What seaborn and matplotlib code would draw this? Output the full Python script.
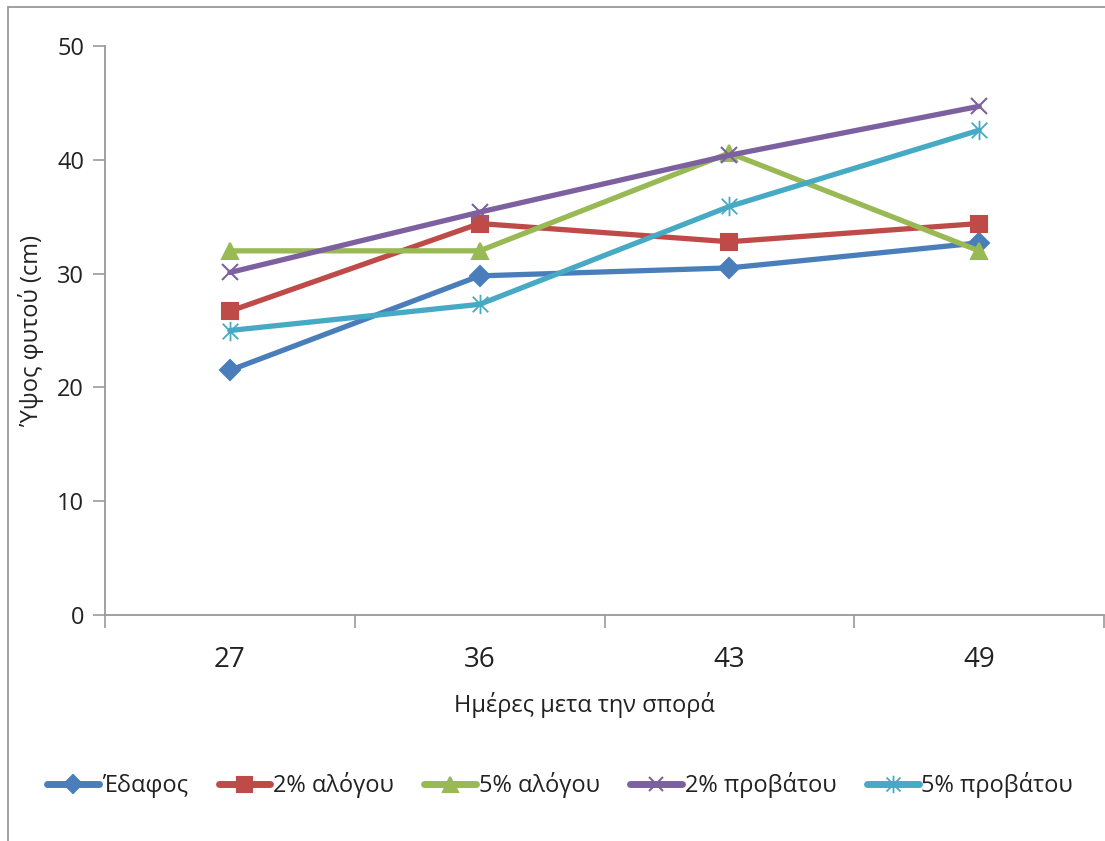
import matplotlib
matplotlib.use("Agg")
import matplotlib.pyplot as plt
from matplotlib.path import Path
from matplotlib.patches import Rectangle
from matplotlib.lines import Line2D
import seaborn as sns
import pandas as pd

days = ["27", "36", "43", "49"]
edafos = [21.5, 29.8, 30.5, 32.7]
alogou2 = [26.7, 34.4, 32.8, 34.4]
alogou5 = [32.0, 32.0, 40.6, 32.0]
provatou2 = [30.1, 35.4, 40.4, 44.7]
provatou5 = [25.0, 27.3, 35.9, 42.6]
series_names = ["Έδαφος", "2% αλόγου", "5% αλόγου", "2% προβάτου", "5% προβάτου"]
series_values = [edafos, alogou2, alogou5, provatou2, provatou5]
colors = ["#4A7EBB", "#BE4B48", "#98B954", "#7D60A0", "#46AAC5"]

sns.set_style("white")
plt.rcParams["font.family"] = ["Open Sans", "DejaVu Sans"]

star = Path([(-1, -1), (1, 1), (-1, 1), (1, -1), (0, -1.25), (0, 1.25)],
            [Path.MOVETO, Path.LINETO, Path.MOVETO, Path.LINETO, Path.MOVETO, Path.LINETO])
markers = ["D", "s", "^", "x", star]
msizes = [10, 12, 12, 11, 14]
medge = [1.5, 1.5, 1.5, 1.5, 1.3]

fig = plt.figure(figsize=(11.05, 8.41), dpi=100)
ax = fig.add_axes([105 / 1105, 1 - 615 / 841, (1104 - 105) / 1105, (615 - 46) / 841])

handles = []
for name, vals, c, m, ms, mew in zip(series_names, series_values, colors, markers, msizes, medge):
    d = pd.DataFrame({"day": days, "height": vals})
    sns.lineplot(data=d, x="day", y="height", color=c, marker=m, markersize=ms,
                 markeredgecolor=c, markerfacecolor=c, markeredgewidth=mew,
                 linewidth=3.8, sort=False, ax=ax, label=name, legend=False)
    handles.append(Line2D([], [], color=c, marker=m, markersize=ms * 0.9,
                          markeredgecolor=c, markerfacecolor=c, markeredgewidth=mew,
                          linewidth=5, solid_capstyle="round"))

ax.set_ylim(0, 50)
ax.set_yticks(range(0, 51, 10))
ax.set_xlim(-0.5, 3.5)
ax.set_xticks(range(len(days)))
ax.set_xticklabels(days)
ax.set_xticks([i - 0.5 for i in range(len(days) + 1)], minor=True)
ax.tick_params(axis="x", which="major", length=0, pad=22, labelsize=20, colors="#222222")
ax.tick_params(axis="x", which="minor", length=9, width=1.2, color="#999999", direction="out", bottom=True)
ax.tick_params(axis="y", which="major", length=9, width=1.2, color="#999999", direction="out",
               pad=6, labelsize=17, labelcolor="#222222", left=True)

for s in ["top", "right"]:
    ax.spines[s].set_visible(False)
for s in ["left", "bottom"]:
    ax.spines[s].set_color("#999999")
    ax.spines[s].set_linewidth(1.3)

ax.set_xlabel("Ημέρες μετα την σπορά", fontsize=17, color="#222222")
ax.set_ylabel("Ύψος φυτού (cm)", fontsize=17, color="#222222")
ax.xaxis.set_label_coords(0.48, -0.135)
ax.yaxis.set_label_coords(-0.061, 0.5)

leg = fig.legend(handles, series_names, loc="center", bbox_to_anchor=(0.507, 1 - 785 / 841),
                 ncol=5, frameon=False, fontsize=17, handlelength=2.2,
                 handletextpad=0.1, columnspacing=1.3)
for t in leg.get_texts():
    t.set_color("#222222")

fig.patches.append(Rectangle((8 / 1105, -0.1), 1.2, 1.1 - 7 / 841, transform=fig.transFigure,
                             fill=False, edgecolor="#999999", linewidth=1.3))

fig.savefig("out.png", dpi=100)
